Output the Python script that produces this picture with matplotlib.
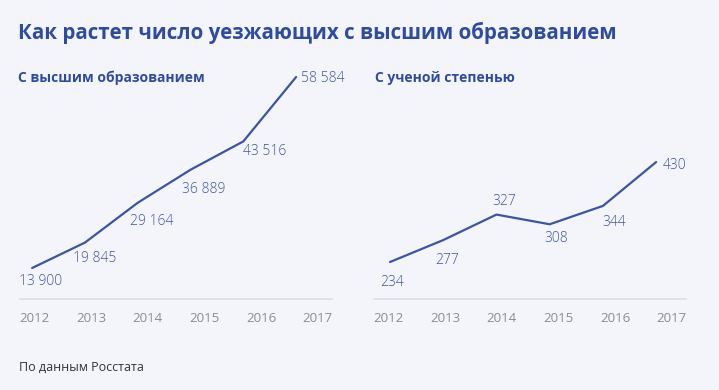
import matplotlib
matplotlib.use("Agg")
import matplotlib.pyplot as plt

# ---- data ----
years = [2012, 2013, 2014, 2015, 2016, 2017]
higher_edu = [13900, 19845, 29164, 36889, 43516, 58584]
degree = [234, 277, 327, 308, 344, 430]

title = "Как растет число уезжающих с высшим образованием"
sub_left = "С высшим образованием"
sub_right = "С ученой степенью"
source = "По данным Росстата"

# ---- style ----
BG = "#f4f5fa"
TITLE_C = "#2f4ba0"
LINE_C = "#3b55a3"
LABEL_C = "#3f55a0"
TICK_C = "#8c8c8c"
BASE_C = "#dcdde3"
FONT = ["Open Sans", "DejaVu Sans"]
plt.rcParams["font.family"] = FONT

W, H = 719, 390
fig = plt.figure(figsize=(W / 100, H / 100), dpi=100, facecolor=BG)

def px_rect(x0, x1, ytop, ybot):
    return [x0 / W, 1 - ybot / H, (x1 - x0) / W, (ybot - ytop) / H]

# label offsets (pixels): (dx to text left, dy down to text center)
off_left = [(-13, 14), (-12, 16), (-8, 19), (-9, 20), (0, 10), (5, 1)]
off_right = [(-10, 20), (-8, 20), (-4, -13), (-5, 14), (-1, 17), (7, 3)]

def fmt(v):
    return f"{v:,}".replace(",", " ")

def panel(x0, x1, vals, xlim_line, ylim, offsets):
    rect = px_rect(x0, x1, 60, 299)
    # baseline / tick axis
    axb = fig.add_axes(rect)
    axb.set_facecolor("none")
    axb.set_xlim(2011.75, 2017.25)
    axb.set_ylim(0, 1)
    for s in ["top", "left", "right"]:
        axb.spines[s].set_visible(False)
    axb.spines["bottom"].set_color(BASE_C)
    axb.spines["bottom"].set_linewidth(1.2)
    axb.set_xticks(years)
    axb.set_xticklabels([str(y) for y in years])
    axb.tick_params(axis="x", length=0, pad=9, labelsize=9.5, labelcolor=TICK_C)
    axb.set_yticks([])
    # line axis
    ax = fig.add_axes(rect)
    ax.set_facecolor("none")
    ax.set_xlim(*xlim_line)
    ax.set_ylim(*ylim)
    ax.axis("off")
    ax.plot(years, vals, color=LINE_C, lw=1.6, solid_capstyle="round",
            solid_joinstyle="round", clip_on=False)
    for x, v, (dx, dy) in zip(years, vals, offsets):
        ax.annotate(fmt(v), (x, v), xytext=(dx, -dy), textcoords="offset pixels",
                    ha="left", va="center", fontsize=10, fontweight="light",
                    color=LABEL_C, annotation_clip=False)
    return ax

panel(20, 332, higher_edu, (2011.77, 2017.68), (6647, 62564), off_left)
panel(374, 686, degree, (2011.70, 2017.56), (161.5, 630), off_right)

fig.text(18 / W, 1 - 33 / H, title, fontsize=14.8, fontweight="bold",
         color=TITLE_C, ha="left", va="center")
fig.text(18 / W, 1 - 78 / H, sub_left, fontsize=10, fontweight="bold",
         color=TITLE_C, ha="left", va="center")
fig.text(375 / W, 1 - 78 / H, sub_right, fontsize=10, fontweight="bold",
         color=TITLE_C, ha="left", va="center")
fig.text(19 / W, 1 - 367 / H, source, fontsize=9, color="#333333",
         ha="left", va="center")

fig.savefig("out.png", dpi=100, facecolor=BG)
